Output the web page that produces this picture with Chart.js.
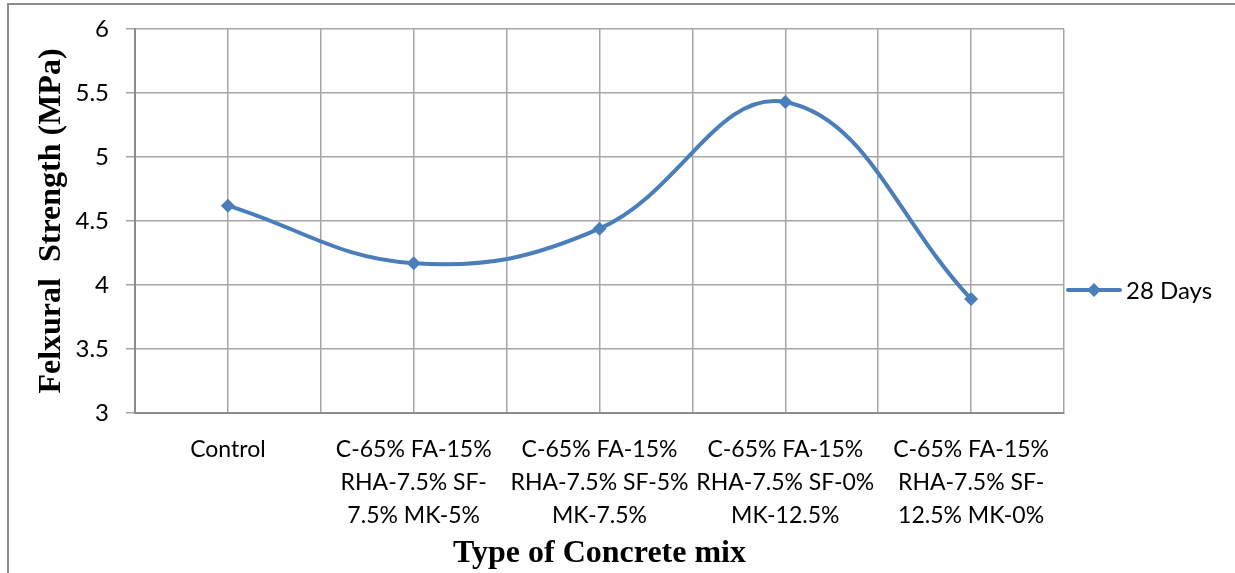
<!DOCTYPE html>
<html>
<head>
<meta charset="utf-8">
<script src="https://cdn.jsdelivr.net/npm/chart.js@4.4.1/dist/chart.umd.min.js"></script>
<style>
  body { margin: 0; background: #fff; }
  #wrap { position: relative; width: 1235px; height: 573px; }
  #frame { position: absolute; left: 7px; top: 3px; right: 0; bottom: -4px;
           border-top: 2px solid #8c8c8c; border-left: 2px solid #8c8c8c; }
  canvas { position: absolute; left: 0; top: 0; }
</style>
</head>
<body>
<div id="wrap">
  <div id="frame"></div>
  <canvas id="flexChart" width="1235" height="573"></canvas>
</div>
<script>
// mix categories (x axis labels, one line per entry)
const mixLabels = [
  ["Control"],
  ["C-65% FA-15%", "RHA-7.5% SF-", "7.5% MK-5%"],
  ["C-65% FA-15%", "RHA-7.5% SF-5%", "MK-7.5%"],
  ["C-65% FA-15%", "RHA-7.5% SF-0%", "MK-12.5%"],
  ["C-65% FA-15%", "RHA-7.5% SF-", "12.5% MK-0%"]
];
// 28 day flexural strength (MPa)
const strength28 = [4.62, 4.17, 4.44, 5.43, 3.89];
const seriesName = "28 Days";
const yTicks = [3, 3.5, 4, 4.5, 5, 5.5, 6];

const lineBlue = "#4a7ebb";
const gridGrey = "#a6a6a6";

// legend drawn by hand so it looks like the Excel one (line + diamond)
const legendPlugin = {
  id: "sideLegend",
  afterDraw(chart) {
    const ctx = chart.ctx;
    const y = 290;
    ctx.save();
    ctx.strokeStyle = lineBlue;
    ctx.lineWidth = 4;
    ctx.lineCap = "round";
    ctx.beginPath();
    ctx.moveTo(1068, y);
    ctx.lineTo(1120, y);
    ctx.stroke();
    ctx.fillStyle = lineBlue;
    ctx.beginPath();
    ctx.moveTo(1094, y - 7);
    ctx.lineTo(1101, y);
    ctx.lineTo(1094, y + 7);
    ctx.lineTo(1087, y);
    ctx.closePath();
    ctx.fill();
    ctx.fillStyle = "#000";
    ctx.font = "24px Lato";
    ctx.textBaseline = "middle";
    ctx.fillText(seriesName, 1126, y + 1);
    ctx.restore();
  }
};

new Chart(document.getElementById("flexChart"), {
  type: "line",
  data: {
    datasets: [{
      label: seriesName,
      data: strength28.map((v, i) => ({ x: i, y: v })),
      borderColor: lineBlue,
      backgroundColor: lineBlue,
      borderWidth: 4,
      tension: 0.4,
      pointStyle: "rectRot",
      pointRadius: 7,
      pointHoverRadius: 7,
      pointBorderWidth: 0
    }]
  },
  options: {
    responsive: false,
    animation: false,
    layout: { padding: { top: 29, right: 171, left: 0, bottom: 0 } },
    plugins: { legend: { display: false }, tooltip: { enabled: false } },
    scales: {
      x: {
        type: "linear",
        min: -0.5,
        max: 4.5,
        afterBuildTicks(scale) {
          const t = [];
          for (let v = -0.5; v <= 4.5001; v += 0.5) t.push({ value: v });
          scale.ticks = t;
        },
        afterFit(scale) { scale.height = 160; },
        grid: { color: gridGrey, lineWidth: 1.5, drawTicks: false },
        border: { color: "#8c8c8c", width: 2 },
        ticks: {
          autoSkip: false,
          maxRotation: 0,
          padding: 20,
          color: "#000",
          font: { family: "Lato", size: 23, lineHeight: 1.435 },
          callback(v) {
            return Number.isInteger(v) ? mixLabels[v] : "";
          }
        },
        title: {
          display: true,
          text: "Type of Concrete mix",
          color: "#000",
          font: { family: "Liberation Serif", size: 32, weight: "bold" },
          padding: { top: 0, bottom: 0 }
        }
      },
      y: {
        min: 3,
        max: 6,
        afterBuildTicks(scale) {
          scale.ticks = yTicks.map(v => ({ value: v }));
        },
        afterFit(scale) {
          scale.width = 135;
          scale.paddingTop = 0;
          scale.paddingBottom = 0;
        },
        grid: { color: gridGrey, lineWidth: 1.5, tickLength: 9 },
        border: { color: "#8c8c8c", width: 2 },
        ticks: {
          color: "#000",
          padding: 17,
          font: { family: "Lato", size: 24 },
          callback(v) { return String(v); }
        },
        title: {
          display: true,
          text: "Felxural  Strength (MPa)",
          color: "#000",
          font: { family: "Liberation Serif", size: 32, weight: "bold" },
          padding: { top: 33, bottom: 0 }
        }
      }
    }
  },
  plugins: [legendPlugin]
});
</script>
</body>
</html>
